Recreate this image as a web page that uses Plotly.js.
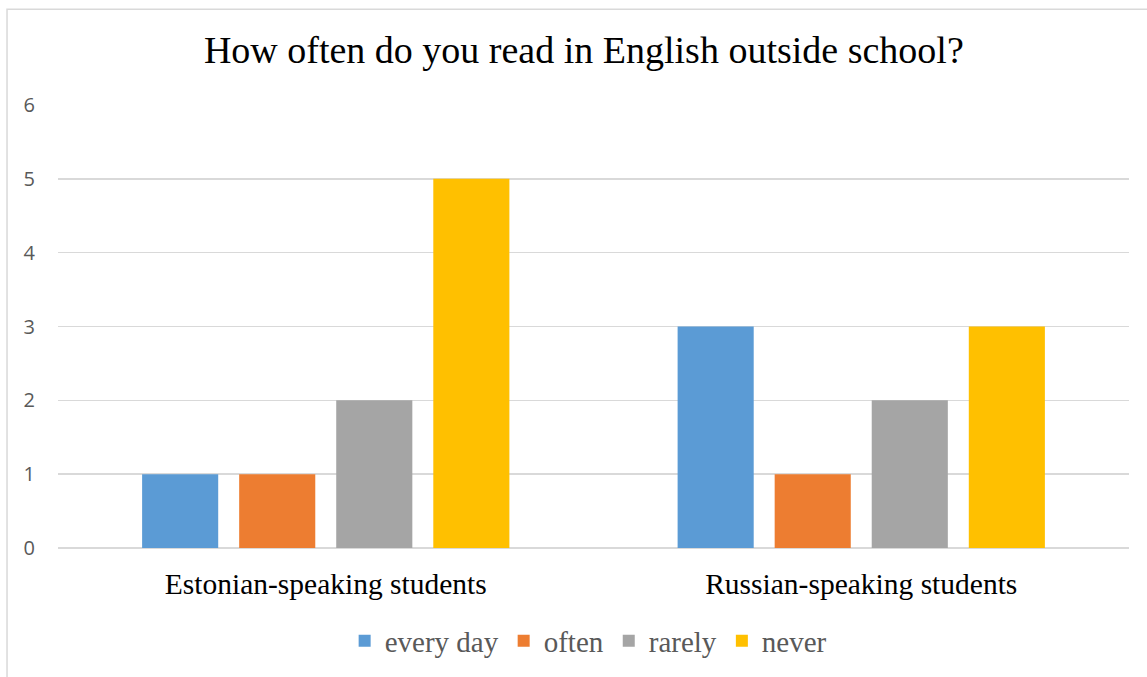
<!DOCTYPE html>
<html>
<head>
<meta charset="utf-8">
<script src="https://cdn.plot.ly/plotly-3.0.1.min.js"></script>
<style>html,body{margin:0;padding:0;background:#fff;}#chart{width:1147px;height:677px;}</style>
</head>
<body>
<div id="chart"></div>
<script>
const categories = ["Estonian-speaking students", "Russian-speaking students"];
const seriesNames = ["every day", "often", "rarely", "never"];
const everyDay = [1, 3];
const often = [1, 1];
const rarely = [2, 2];
const never = [5, 3];
const yTicks = [0, 1, 2, 3, 4, 5, 6];

const seriesValues = [everyDay, often, rarely, never];
const colors = ["#5b9bd5", "#ed7d31", "#a5a5a5", "#ffc000"];

const traces = seriesNames.map((name, i) => ({
  type: "bar",
  name: name,
  x: categories,
  y: seriesValues[i],
  marker: {color: colors[i]},
  hoverinfo: "none"
}));

const layout = {
  width: 1147,
  height: 677,
  margin: {l: 58, r: 18, t: 105, b: 128},
  paper_bgcolor: "#ffffff",
  plot_bgcolor: "#ffffff",
  barmode: "group",
  bargap: 0.275,
  bargroupgap: 0.216,
  title: {
    text: "How often do you read in English outside school?",
    font: {family: "Liberation Serif, Times New Roman, serif", size: 38, color: "#000000"},
    x: 0.509, xref: "container", xanchor: "center",
    y: 0.926, yref: "container", yanchor: "middle"
  },
  xaxis: {
    type: "category",
    showgrid: false,
    showline: false,
    zeroline: false,
    ticks: "",
    ticklabelstandoff: 15,
    tickfont: {family: "Liberation Serif, Times New Roman, serif", size: 29.5, color: "#000000"}
  },
  yaxis: {
    range: [0, 6],
    tickvals: yTicks,
    ticktext: yTicks.map(String),
    showgrid: true,
    gridcolor: "#d9d9d9",
    gridwidth: 1.5,
    zeroline: true,
    zerolinecolor: "#d9d9d9",
    zerolinewidth: 2,
    showline: false,
    ticks: "",
    ticklabelstandoff: 22,
    tickfont: {family: "Open Sans, Noto Sans, sans-serif", size: 20, color: "#595959"}
  },
  legend: {
    orientation: "h",
    x: 0.495, xanchor: "center",
    y: -0.207, yanchor: "middle",
    font: {family: "Liberation Serif, Times New Roman, serif", size: 29, color: "#595959"},
    itemwidth: 30,
    traceorder: "normal"
  },
  shapes: [{
    type: "rect", xref: "paper", yref: "paper",
    x0: -0.0476, x1: 1.05, y0: -0.4, y1: 1.216,
    line: {color: "#d9d9d9", width: 1.5},
    fillcolor: "rgba(0,0,0,0)",
    layer: "below"
  }],
  showlegend: true
};

Plotly.newPlot("chart", traces, layout, {displayModeBar: false, staticPlot: true});
</script>
</body>
</html>
